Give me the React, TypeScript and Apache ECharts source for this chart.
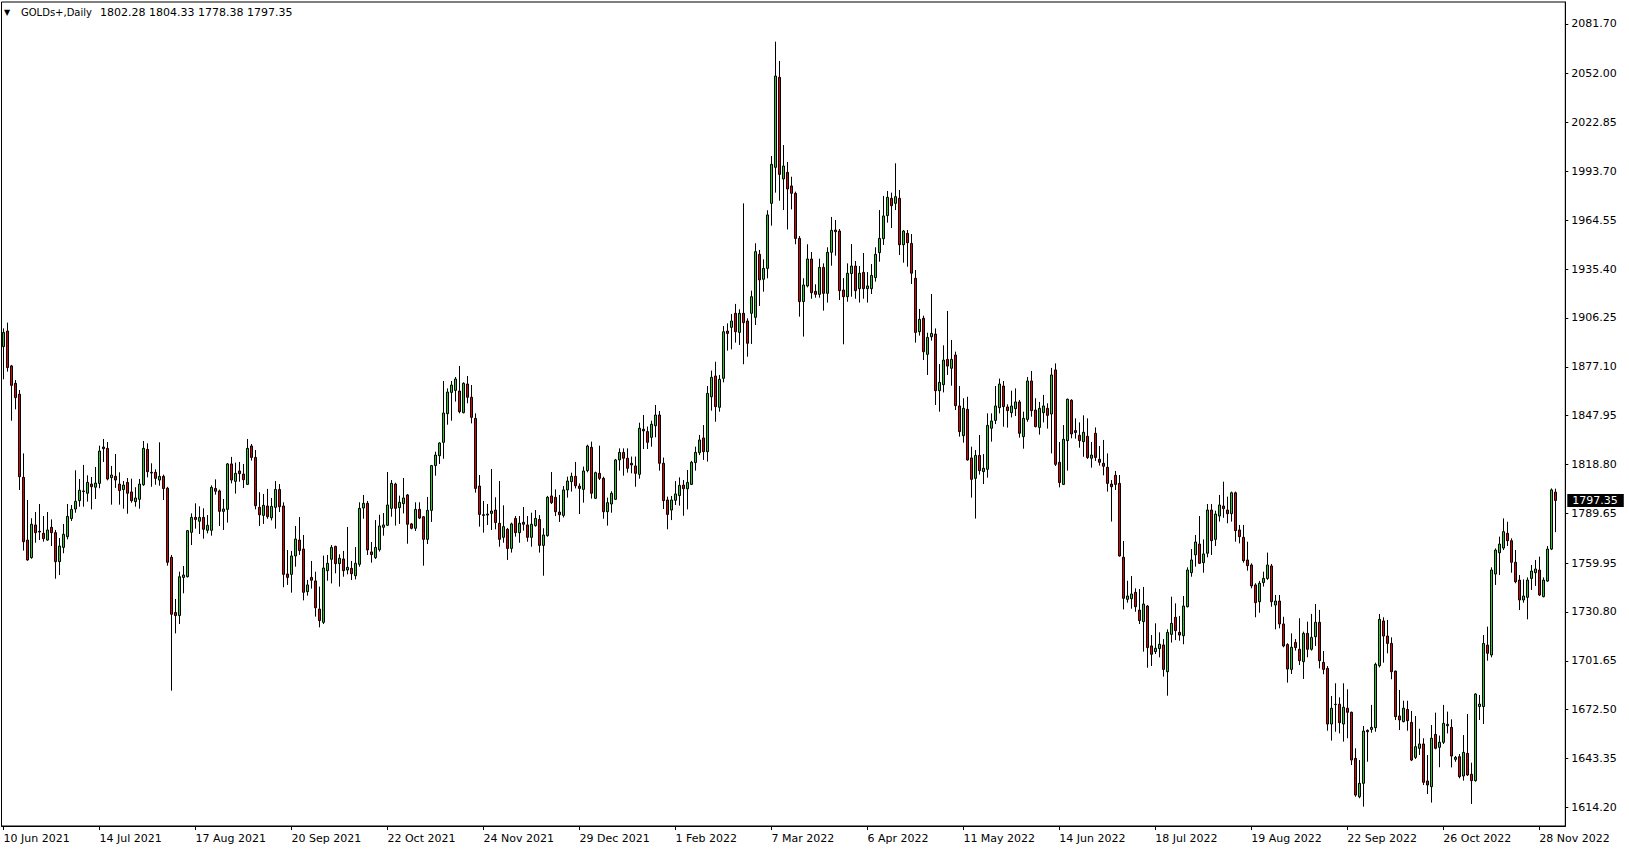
import React, { useEffect, useRef } from 'react';
import * as echarts from 'echarts';

const dateLabels = ['10 Jun 2021', '14 Jul 2021', '17 Aug 2021', '20 Sep 2021', '22 Oct 2021', '24 Nov 2021', '29 Dec 2021', '1 Feb 2022', '7 Mar 2022', '6 Apr 2022', '11 May 2022', '14 Jun 2022', '18 Jul 2022', '19 Aug 2022', '22 Sep 2022', '26 Oct 2022', '28 Nov 2022'];
const labelEvery = 24;
const priceTicks = [1614.20, 1643.35, 1672.50, 1701.65, 1730.80, 1759.95, 1789.65, 1818.80, 1847.95, 1877.10, 1906.25, 1935.40, 1964.55, 1993.70, 2022.85, 2052.00, 2081.70];
const header = { symbol: 'GOLDs+,Daily', open: 1802.28, high: 1804.33, low: 1778.38, close: 1797.35 };

const opens = [
1889.1,1898.4,1877.6,1867.2,1860.7,1811.1,1773.7,1763.2,1782.7,1778.9,1777.7,1773.7,1781.3,1778.1,1760.8,1769.3,1775.7,1786.5,1792.2,1797.2,
1802.6,1801.6,1807.1,1805.2,1807.5,1829.2,1828.4,1810.9,1811.7,1807.1,1803.8,1808.1,1802.4,1796.6,1798.0,1806.7,1827.8,1814.1,1814.1,1809.5,
1811.7,1804.6,1763.4,1730.4,1728.6,1751.4,1751.8,1778.3,1787.2,1784.9,1787.2,1779.5,1779.5,1804.5,1803.0,1790.8,1792.0,1819.1,1808.7,1814.9,
1813.1,1806.9,1829.8,1823.0,1793.2,1788.4,1794.0,1787.0,1793.2,1803.9,1794.0,1753.4,1753.2,1764.2,1773.7,1768.3,1742.9,1751.4,1749.3,1732.5,
1724.6,1755.4,1762.2,1769.9,1759.6,1762.4,1755.8,1756.8,1752.4,1759.2,1792.8,1795.6,1766.6,1763.2,1767.9,1781.3,1782.5,1792.6,1807.1,1793.0,
1795.4,1800.6,1783.3,1780.7,1792.0,1787.6,1774.1,1791.4,1818.1,1824.0,1832.0,1849.1,1861.8,1863.0,1862.6,1849.7,1866.8,1858.9,1846.3,1805.9,
1788.8,1788.6,1789.6,1791.6,1783.7,1775.3,1780.1,1768.7,1786.6,1778.1,1784.3,1782.7,1775.3,1782.3,1786.0,1770.5,1776.3,1800.0,1799.2,1790.4,
1788.4,1803.6,1808.5,1811.7,1805.9,1803.9,1815.1,1829.0,1798.6,1813.5,1810.5,1790.6,1795.2,1798.0,1821.5,1826.0,1822.5,1819.5,1817.9,1812.9,
1839.8,1838.4,1835.0,1841.9,1848.3,1819.5,1797.6,1791.6,1797.4,1800.2,1806.5,1804.3,1806.9,1819.9,1825.8,1834.6,1826.4,1859.2,1871.6,1852.9,
1870.2,1898.4,1900.6,1909.0,1897.6,1909.0,1904.4,1909.0,1906.6,1944.2,1929.3,1935.8,1974.6,1996.1,2049.8,1989.2,1993.1,1985.0,1980.6,1953.7,
1916.0,1925.3,1941.4,1922.1,1920.3,1936.4,1920.9,1945.4,1958.7,1958.1,1922.9,1918.9,1932.7,1937.2,1923.7,1933.4,1923.7,1923.7,1930.3,1945.2,
1953.5,1967.3,1977.6,1974.6,1977.6,1949.9,1956.7,1950.7,1929.9,1898.0,1906.0,1884.5,1895.0,1896.6,1862.8,1866.4,1881.5,1876.2,1884.1,1853.7,
1836.0,1851.7,1822.7,1810.5,1824.2,1814.5,1815.9,1840.4,1845.1,1852.7,1865.6,1853.1,1849.7,1852.1,1856.1,1835.4,1845.7,1868.6,1851.3,1840.9,
1849.7,1852.3,1848.9,1875.2,1820.1,1806.9,1833.0,1857.1,1839.0,1836.2,1832.4,1835.6,1822.5,1837.4,1821.9,1819.5,1817.1,1807.1,1812.3,1807.5,
1763.4,1738.3,1738.7,1742.5,1731.9,1725.0,1734.3,1710.5,1707.1,1708.9,1711.1,1695.1,1717.4,1727.6,1718.6,1716.6,1733.9,1754.2,1764.9,1771.3,
1760.2,1765.8,1791.6,1774.1,1788.0,1794.0,1791.6,1789.4,1801.9,1779.7,1775.3,1761.8,1758.8,1746.9,1736.9,1748.3,1750.8,1758.2,1734.9,1737.3,
1723.6,1711.3,1696.5,1712.6,1708.5,1701.1,1718.0,1708.5,1716.0,1724.6,1700.7,1697.1,1663.9,1675.7,1675.7,1663.9,1673.3,1670.9,1643.4,1620.5,
1628.5,1660.1,1660.7,1661.7,1698.7,1725.4,1716.4,1712.0,1695.5,1668.7,1665.3,1672.6,1664.9,1644.0,1649.4,1652.0,1629.9,1626.5,1657.7,1650.0,
1653.0,1662.9,1661.9,1642.8,1644.4,1632.9,1646.4,1633.9,1630.1,1674.3,1674.3,1711.0,1705.1,1753.4,1766.1,1768.9,1777.7,1773.3,1760.4,1749.8,
1737.9,1739.5,1750.8,1754.2,1755.8,1739.9,1749.2,1768.3,1802.28
];
const highs = [
1900.0,1903.4,1878.2,1869.2,1863.2,1825.4,1797.6,1786.7,1790.4,1795.2,1788.0,1790.4,1786.0,1779.7,1774.9,1783.3,1795.2,1794.6,1815.3,1810.1,
1818.5,1812.3,1811.3,1817.3,1830.0,1834.0,1832.2,1817.9,1825.0,1814.1,1808.9,1810.7,1810.3,1805.2,1810.1,1832.8,1831.4,1819.5,1815.9,1832.0,
1812.7,1805.4,1764.8,1738.5,1754.8,1758.2,1779.7,1789.6,1795.6,1793.8,1792.6,1788.6,1806.3,1809.9,1803.8,1798.2,1819.7,1823.3,1819.9,1820.3,
1819.1,1834.0,1831.0,1827.4,1802.2,1801.2,1804.2,1798.8,1808.9,1807.1,1796.2,1767.7,1767.2,1782.1,1787.4,1776.7,1749.9,1761.2,1754.8,1745.9,
1764.4,1764.8,1770.7,1770.3,1765.2,1767.2,1781.5,1761.2,1769.5,1796.2,1800.6,1797.0,1772.5,1785.6,1788.8,1789.8,1814.3,1809.5,1807.9,1800.2,
1810.7,1801.2,1783.9,1796.2,1796.2,1788.0,1799.4,1818.5,1826.4,1832.0,1868.6,1864.2,1868.6,1871.0,1877.6,1867.8,1871.6,1866.2,1849.3,1812.5,
1797.0,1795.2,1816.1,1799.2,1808.9,1794.4,1780.9,1784.1,1788.0,1788.0,1793.4,1788.0,1790.0,1791.6,1788.6,1780.7,1800.0,1814.3,1803.9,1800.6,
1805.9,1811.5,1813.9,1820.3,1807.5,1817.5,1830.6,1832.4,1814.5,1830.0,1811.5,1799.0,1802.8,1822.1,1828.4,1828.4,1828.4,1823.5,1823.5,1843.7,
1848.3,1841.4,1844.9,1854.3,1850.7,1822.9,1799.6,1800.0,1808.9,1811.1,1809.5,1815.5,1820.9,1829.4,1836.4,1842.3,1865.6,1874.8,1880.1,1872.2,
1901.4,1903.0,1908.6,1914.6,1911.4,1974.6,1906.0,1922.5,1950.8,1946.8,1941.2,1970.5,2002.9,2071.1,2059.6,2009.4,1999.3,1990.5,1981.6,1955.1,
1929.9,1950.2,1945.6,1926.3,1941.6,1938.8,1948.4,1966.5,1964.7,1959.3,1930.0,1938.8,1950.3,1940.2,1937.2,1945.0,1933.6,1938.4,1948.4,1970.6,
1979.0,1982.0,1981.0,1998.5,1982.6,1958.7,1958.7,1956.3,1934.8,1911.6,1907.6,1897.4,1920.5,1900.0,1878.7,1889.9,1910.4,1893.1,1886.1,1865.6,
1858.3,1859.2,1829.4,1827.4,1836.4,1825.0,1849.3,1849.3,1865.6,1870.0,1868.6,1854.7,1862.8,1864.2,1857.3,1850.3,1871.0,1874.6,1858.3,1856.1,
1860.3,1855.3,1876.4,1879.1,1832.2,1842.3,1858.1,1857.7,1846.3,1843.9,1848.1,1846.3,1832.2,1840.9,1829.8,1833.4,1825.4,1809.5,1814.9,1812.5,
1773.1,1749.4,1752.2,1744.9,1744.5,1745.7,1734.9,1717.0,1724.0,1718.6,1714.6,1720.4,1739.9,1735.9,1728.4,1740.3,1757.4,1768.3,1776.7,1788.0,
1774.1,1795.2,1795.2,1791.2,1800.6,1808.5,1799.6,1802.6,1802.6,1782.7,1782.7,1772.7,1759.8,1747.9,1749.3,1754.8,1766.2,1759.4,1740.9,1740.9,
1727.9,1712.1,1718.0,1714.6,1727.0,1719.0,1725.0,1729.6,1735.5,1732.0,1707.5,1698.5,1680.6,1688.2,1679.8,1688.2,1684.6,1671.3,1649.4,1642.4,
1662.7,1660.7,1675.3,1700.5,1729.6,1727.6,1726.0,1715.6,1695.7,1684.2,1677.8,1677.8,1671.7,1668.7,1661.1,1655.4,1645.4,1663.3,1670.7,1657.0,
1675.3,1671.3,1666.7,1644.8,1646.0,1657.3,1669.9,1640.8,1682.2,1681.2,1717.0,1722.0,1757.4,1768.7,1775.7,1786.6,1784.6,1774.7,1767.7,1752.8,
1750.2,1751.4,1758.8,1761.8,1763.8,1751.4,1770.1,1804.5,1804.33
];
const lows = [
1869.6,1874.2,1844.9,1851.7,1803.6,1767.4,1761.4,1762.5,1772.1,1773.7,1772.7,1773.3,1770.1,1750.6,1752.8,1765.8,1774.1,1785.1,1790.0,1793.6,
1793.6,1796.6,1792.0,1798.2,1804.6,1820.3,1809.3,1794.8,1804.8,1794.8,1792.4,1789.4,1796.0,1793.6,1792.4,1806.1,1811.1,1805.5,1806.7,1806.1,
1797.6,1758.4,1683.8,1718.0,1723.6,1741.9,1751.4,1770.7,1780.5,1777.3,1774.5,1777.7,1776.3,1800.8,1782.1,1779.7,1784.1,1807.5,1801.4,1808.5,
1804.7,1806.5,1821.1,1792.0,1782.1,1783.3,1786.4,1785.4,1780.5,1790.4,1745.5,1746.9,1742.3,1757.8,1764.8,1737.7,1740.5,1744.7,1728.0,1721.6,
1723.6,1749.4,1747.8,1753.8,1745.9,1751.8,1753.2,1749.8,1750.2,1757.8,1786.4,1764.8,1760.2,1762.4,1766.8,1776.3,1782.1,1787.6,1782.3,1783.3,
1789.6,1771.5,1780.1,1779.1,1786.2,1758.4,1771.3,1784.5,1812.1,1819.1,1822.2,1842.5,1844.9,1856.3,1849.3,1849.3,1855.3,1843.3,1802.0,1781.7,
1778.1,1782.7,1779.7,1780.1,1769.7,1772.1,1761.8,1766.2,1775.7,1772.1,1779.3,1772.7,1769.7,1781.7,1766.2,1752.4,1775.7,1795.2,1788.0,1784.5,
1787.2,1799.0,1802.6,1804.5,1789.2,1796.0,1814.1,1798.4,1798.2,1809.5,1786.4,1782.3,1790.0,1797.6,1815.1,1812.1,1813.9,1813.5,1805.5,1810.3,
1828.0,1828.0,1829.4,1835.0,1815.1,1792.2,1780.1,1785.6,1794.6,1794.2,1788.2,1792.0,1806.5,1815.1,1824.4,1821.5,1820.5,1850.9,1844.3,1850.3,
1867.8,1886.7,1887.5,1891.5,1890.1,1878.6,1883.1,1890.7,1902.0,1913.4,1921.9,1929.9,1961.3,1981.0,1976.2,1970.6,1959.0,1971.0,1950.2,1907.0,
1895.1,1924.5,1917.7,1918.3,1918.3,1910.6,1915.4,1937.4,1943.4,1916.9,1890.5,1915.9,1918.9,1917.7,1915.4,1917.7,1915.4,1920.5,1927.9,1939.8,
1949.8,1963.1,1959.9,1970.6,1943.8,1939.2,1936.8,1926.5,1891.5,1895.7,1881.1,1872.2,1892.7,1854.3,1850.3,1861.8,1872.2,1865.8,1851.3,1835.4,
1831.8,1821.1,1799.0,1786.5,1812.7,1807.1,1810.9,1832.4,1842.9,1849.3,1841.3,1840.8,1846.9,1847.7,1834.8,1828.2,1844.3,1847.3,1840.9,1836.6,
1843.9,1840.2,1825.4,1817.9,1805.1,1806.5,1815.1,1834.4,1834.2,1828.8,1823.4,1822.1,1816.9,1820.9,1818.1,1812.3,1802.6,1784.7,1803.6,1763.8,
1732.3,1736.3,1732.7,1730.9,1723.6,1707.1,1697.5,1698.5,1705.7,1703.7,1692.2,1680.8,1712.5,1714.0,1713.6,1711.5,1733.5,1751.8,1757.8,1759.4,
1754.2,1763.4,1764.8,1770.1,1784.7,1787.0,1783.7,1784.7,1772.7,1771.7,1760.2,1755.4,1744.9,1727.6,1730.3,1745.9,1749.9,1733.9,1720.4,1721.0,
1709.7,1688.6,1693.8,1707.7,1699.1,1690.8,1703.7,1707.7,1710.5,1697.1,1693.6,1659.9,1654.0,1659.3,1658.3,1653.4,1655.4,1639.4,1620.5,1619.6,
1614.6,1641.4,1658.7,1659.3,1697.7,1700.5,1706.1,1690.6,1666.3,1660.3,1664.9,1659.9,1641.8,1643.0,1645.4,1627.5,1622.1,1617.0,1648.8,1638.1,
1652.0,1658.3,1638.0,1641.4,1631.5,1630.1,1632.9,1616.2,1629.5,1666.3,1663.9,1701.7,1703.7,1746.9,1752.8,1767.7,1770.1,1754.2,1747.9,1731.9,
1736.3,1726.4,1743.9,1746.3,1740.3,1739.5,1748.8,1767.7,1778.38
];
const closes = [
1897.6,1876.6,1866.0,1858.7,1811.5,1772.7,1761.8,1783.1,1778.1,1778.5,1774.5,1779.7,1778.1,1760.8,1770.1,1777.1,1787.8,1792.0,1796.8,1803.4,
1803.0,1808.1,1805.5,1807.7,1826.8,1828.2,1810.1,1812.5,1809.5,1803.2,1806.5,1801.6,1797.2,1798.8,1807.1,1828.4,1814.5,1813.7,1810.5,1811.7,
1804.4,1760.4,1729.4,1728.6,1751.8,1752.8,1779.3,1787.2,1786.0,1787.2,1780.1,1782.5,1805.1,1802.8,1790.8,1792.2,1819.1,1809.5,1813.5,1813.3,
1809.7,1828.4,1823.0,1794.2,1788.8,1794.4,1787.6,1793.8,1803.9,1793.6,1753.2,1751.4,1764.2,1774.3,1767.4,1742.5,1746.9,1749.7,1733.3,1725.6,
1757.0,1759.8,1769.3,1759.6,1762.8,1755.4,1757.4,1753.6,1759.8,1792.6,1795.6,1767.8,1765.0,1769.3,1782.1,1782.7,1794.6,1807.5,1792.6,1796.2,
1798.8,1783.1,1780.7,1792.0,1786.8,1774.1,1791.4,1818.1,1824.4,1831.6,1849.5,1862.0,1866.2,1869.8,1850.3,1867.2,1858.9,1846.9,1804.5,1789.0,
1788.4,1789.2,1791.0,1784.1,1774.1,1781.7,1768.7,1783.3,1778.1,1783.7,1783.1,1775.3,1783.1,1786.6,1770.5,1776.7,1799.2,1796.0,1790.6,1788.8,
1803.6,1808.9,1811.7,1806.1,1804.5,1814.9,1829.8,1801.6,1813.9,1810.5,1790.6,1796.0,1801.6,1821.5,1826.0,1822.5,1816.5,1818.5,1813.5,1840.4,
1838.8,1832.0,1842.8,1848.3,1819.5,1797.2,1789.0,1797.6,1801.2,1806.3,1804.3,1808.1,1820.1,1826.0,1833.4,1826.4,1861.2,1870.8,1853.3,1869.6,
1898.0,1897.0,1904.4,1898.0,1909.0,1903.4,1891.1,1918.9,1945.8,1928.9,1935.8,1967.7,1997.9,2050.6,1991.9,1996.9,1983.2,1980.6,1953.7,1916.0,
1925.9,1941.4,1921.3,1920.3,1936.4,1920.9,1945.4,1958.5,1957.7,1922.5,1918.9,1932.9,1937.2,1922.5,1932.9,1923.7,1925.3,1931.6,1944.2,1953.7,
1967.1,1978.2,1973.2,1978.6,1949.9,1958.1,1951.1,1932.9,1897.6,1905.4,1886.1,1894.6,1897.0,1862.8,1867.8,1881.1,1877.5,1881.5,1853.9,1838.4,
1852.3,1821.5,1809.9,1824.2,1815.1,1816.5,1842.1,1844.7,1853.7,1866.8,1853.3,1850.9,1853.7,1856.1,1837.4,1846.3,1868.6,1850.9,1841.4,1852.3,
1853.7,1848.1,1872.2,1818.9,1808.0,1833.8,1857.7,1837.0,1837.8,1833.0,1838.0,1822.9,1824.4,1823.0,1820.1,1817.7,1807.5,1805.5,1806.9,1764.2,
1738.9,1740.3,1741.5,1733.9,1725.6,1735.5,1709.5,1705.5,1709.1,1711.5,1696.5,1718.6,1724.0,1719.6,1717.0,1734.3,1755.8,1761.8,1772.5,1759.8,
1765.4,1791.6,1773.3,1789.2,1794.6,1792.4,1789.4,1801.9,1779.3,1775.7,1761.4,1758.4,1746.3,1736.3,1747.9,1750.8,1758.8,1736.9,1737.3,1723.6,
1710.5,1696.7,1709.7,1709.5,1701.7,1718.0,1708.5,1715.6,1724.6,1701.7,1696.5,1663.9,1673.3,1675.5,1664.7,1673.9,1670.9,1642.4,1621.5,1628.5,
1659.7,1659.3,1661.9,1699.5,1726.4,1716.4,1712.0,1695.1,1668.3,1666.3,1673.3,1665.9,1642.4,1650.4,1652.0,1629.1,1627.5,1655.4,1649.4,1653.0,
1664.3,1663.7,1644.8,1644.0,1632.5,1647.0,1633.5,1630.1,1681.8,1675.8,1712.0,1706.1,1755.8,1767.7,1771.3,1778.7,1773.3,1760.4,1748.8,1737.9,
1740.3,1749.8,1755.2,1756.4,1740.9,1749.8,1768.3,1803.6,1797.35
];

const emptyBarsAtRight = 2;
const FONT = 'DejaVu Sans';

export default function App() {
  const ref = useRef<HTMLDivElement>(null);
  useEffect(() => {
    if (!ref.current) return;
    const chart = echarts.init(ref.current, undefined, { renderer: 'svg' });
    const n = opens.length;
    const categories = Array.from({ length: n + emptyBarsAtRight }, (_, i) => String(i));
    const candles = opens.map((o, i) => [o, closes[i], lows[i], highs[i]]);
    const showIdx = (idx: number) => idx % labelEvery === 0 && idx / labelEvery < dateLabels.length;
    chart.setOption({
      animation: false,
      backgroundColor: '#ffffff',
      textStyle: { fontFamily: FONT },
      title: {
        left: 4,
        top: 6,
        padding: 0,
        text: `{t|▼}{n|${header.symbol}}{v|${header.open.toFixed(2)} ${header.high.toFixed(2)} ${header.low.toFixed(2)} ${header.close.toFixed(2)}}`,
        textStyle: {
          fontWeight: 'normal',
          rich: {
            t: { fontSize: 8, width: 17, lineHeight: 13, color: '#000', fontFamily: FONT, fontWeight: 'normal' },
            n: { fontSize: 10, width: 79, lineHeight: 13, color: '#000', fontFamily: FONT, fontWeight: 'normal' },
            v: { fontSize: 11, lineHeight: 13, color: '#000', fontFamily: FONT, fontWeight: 'normal' },
          },
        },
      },
      grid: {
        left: 1.5,
        top: 2,
        width: 1563.8,
        height: 824,
        show: true,
        borderColor: '#000',
        borderWidth: 1,
        backgroundColor: 'transparent',
      },
      xAxis: {
        type: 'category',
        data: categories,
        boundaryGap: true,
        axisLine: { show: true, lineStyle: { color: '#000', width: 1 } },
        axisTick: {
          show: true,
          alignWithLabel: true,
          length: 4,
          interval: (idx: number) => showIdx(idx),
          lineStyle: { color: '#000' },
        },
        axisLabel: {
          interval: (idx: number) => showIdx(idx),
          formatter: (_v: string, idx: number) => dateLabels[idx / labelEvery] ?? '',
          align: 'left',
          margin: 7,
          color: '#000',
          fontSize: 11,
          fontFamily: FONT,
        },
        splitLine: { show: false },
      },
      yAxis: {
        type: 'value',
        position: 'right',
        min: 1603.04,
        max: 2094.77,
        scale: true,
        axisLine: { show: true, lineStyle: { color: '#000', width: 1 } },
        axisTick: { show: true, length: 3, customValues: priceTicks, lineStyle: { color: '#000' } },
        axisLabel: {
          customValues: priceTicks,
          formatter: (v: number) => v.toFixed(2),
          margin: 6,
          color: '#000',
          fontSize: 11,
          fontFamily: FONT,
          showMinLabel: true,
          showMaxLabel: true,
        },
        splitLine: { show: false },
      },
      series: [
        {
          type: 'candlestick',
          data: candles,
          barWidth: 2,
          clip: false,
          itemStyle: {
            color: '#22CC22',
            color0: '#E00000',
            borderColor: '#000',
            borderColor0: '#000',
            borderColorDoji: '#000',
            borderWidth: 1,
          },
          markLine: {
            silent: true,
            symbol: ['none', 'none'],
            lineStyle: { color: 'rgba(0,0,0,0)', width: 1, type: 'solid' },
            label: {
              show: true,
              position: 'end',
              distance: 2,
              formatter: () => header.close.toFixed(2),
              backgroundColor: '#000',
              color: '#fff',
              fontSize: 11,
              fontFamily: FONT,
              padding: [1, 6, 1, 5],
            },
            emphasis: { disabled: true },
            data: [{ yAxis: header.close }],
          },
        },
      ],
    });
    return () => chart.dispose();
  }, []);
  return (
    <div
      ref={ref}
      style={{ position: 'fixed', left: 0, top: 0, width: 1629, height: 850, background: '#fff' }}
    />
  );
}
